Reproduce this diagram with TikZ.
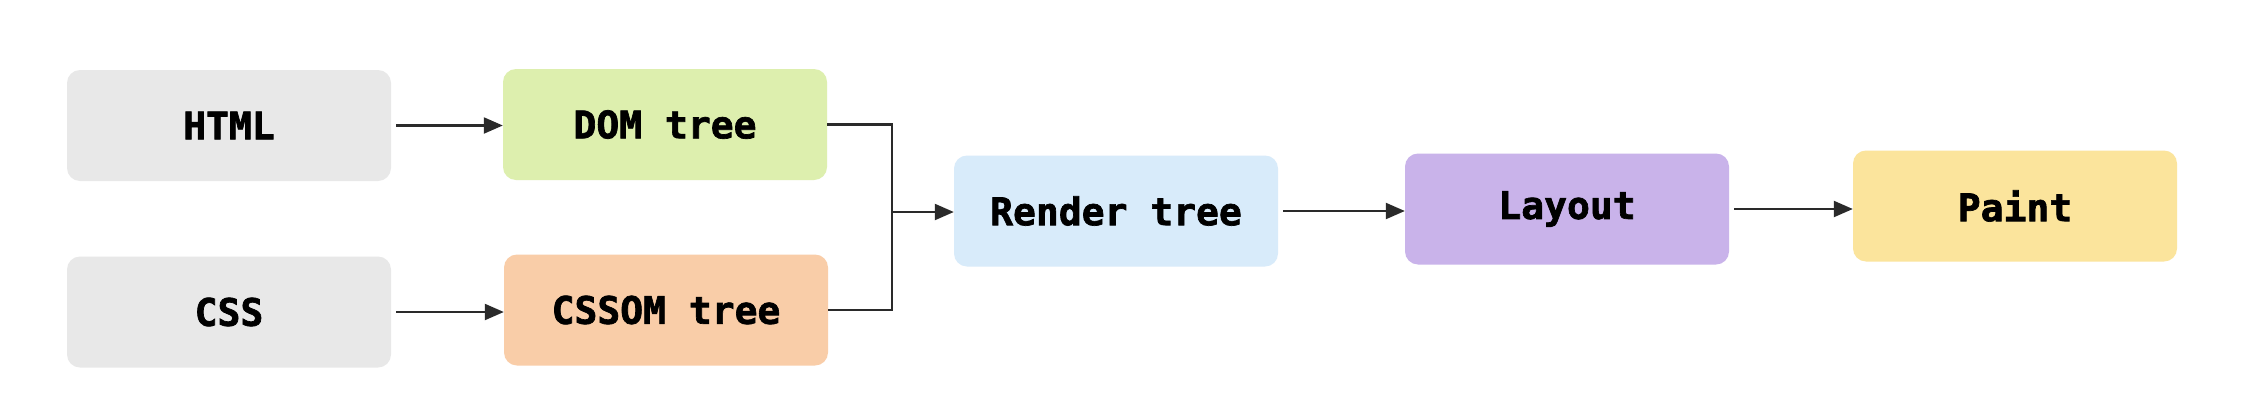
\documentclass[tikz,border=0pt]{standalone}
\usepackage{fontspec}
\setmonofont[BoldFeatures={FakeBold=1.8}]{DejaVu Sans Mono}
\usetikzlibrary{arrows.meta}
\definecolor{cgray}{HTML}{E8E8E8}
\definecolor{cgreen}{HTML}{DDEFAE}
\definecolor{cpeach}{HTML}{F9CDA8}
\definecolor{cblue}{HTML}{D8EBFA}
\definecolor{cpurple}{HTML}{C9B3EA}
\definecolor{cyellow}{HTML}{FBE49C}
\definecolor{cline}{HTML}{2A2A2A}
\begin{document}
\begin{tikzpicture}[x=1pt,y=-1pt,
  box/.style={rounded corners=13pt, inner sep=0pt, minimum width=324pt, minimum height=111pt,
    font=\fontsize{38}{40}\selectfont\ttfamily\bfseries, text=black},
  conn/.style={draw=cline, line width=2.2pt, -{Triangle[length=19pt,width=16pt]}},
  plain/.style={draw=cline, line width=2.2pt}]
\useasboundingbox (0,0) rectangle (2242,402);
\fill[white] (0,0) rectangle (2242,402);
\node[box, fill=cgray] (html) at (229,125.5) {HTML};
\node[box, fill=cgreen] (dom) at (665,124.5) {DOM tree};
\node[box, fill=cgray] (css) at (229,312) {CSS};
\node[box, fill=cpeach] (cssom) at (666,310) {CSSOM tree};
\node[box, fill=cblue] (render) at (1116,211) {Render tree};
\node[box, fill=cpurple] (layout) at (1567,209) {Layout};
\node[box, fill=cyellow] (paint) at (2015,206) {Paint};
\coordinate (j) at (892,212);
\draw[conn, shorten <=5pt] (html.east) -- (html.east -| dom.west);
\draw[conn, shorten <=5pt] (css.east) -- (css.east -| cssom.west);
\draw[plain] (dom.east) -| (j);
\draw[plain] (cssom.east) -| (j);
\draw[conn] (j) -- (j -| render.west);
\draw[conn, shorten <=5pt] (render.east) -- (render.east -| layout.west);
\draw[conn, shorten <=5pt] (layout.east) -- (layout.east -| paint.west);
\end{tikzpicture}
\end{document}
